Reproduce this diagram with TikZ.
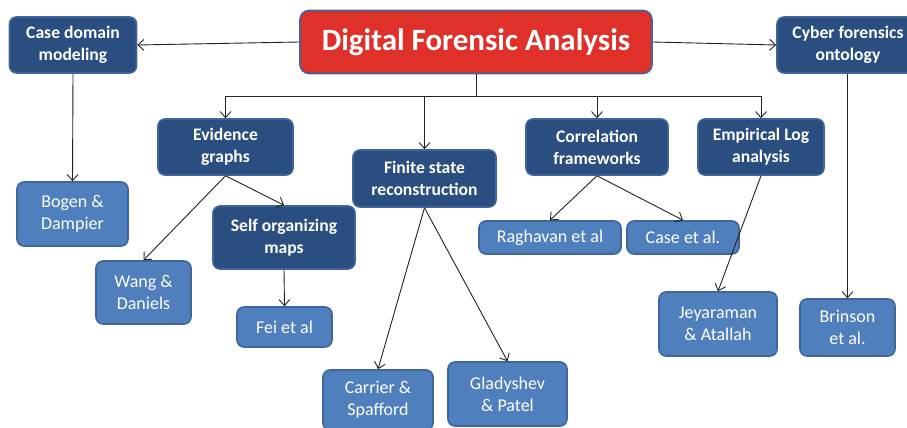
\documentclass[tikz,border=0pt]{standalone}
\usepackage{fontspec}
\setmainfont{Carlito}
\usetikzlibrary{arrows.meta}
\definecolor{darkfill}{HTML}{2A4E80}
\definecolor{lightfill}{HTML}{4F7FBD}
\definecolor{redfill}{HTML}{E0302A}
\definecolor{edgeblue}{HTML}{3F659A}
\definecolor{wire}{HTML}{222222}
\tikzset{
  basebox/.style={rounded corners=7pt, draw=edgeblue, line width=1.6pt,
    inner sep=0pt, align=center, text=white},
  topicbox/.style={basebox, fill=darkfill,
    font=\bfseries\fontsize{17.6}{22}\selectfont},
  refbox/.style={basebox, fill=lightfill,
    font=\fontsize{18}{22}\selectfont},
  rootbox/.style={basebox, fill=redfill, rounded corners=9pt,
    font=\bfseries\fontsize{31}{34}\selectfont},
  arr/.style={draw=wire, line width=0.9pt,
    -{Straight Barb[length=6pt,width=11pt]}},
  plain/.style={draw=wire, line width=0.9pt}
}
\begin{document}
\begin{tikzpicture}[x=1pt,y=-1pt]
\useasboundingbox (0,0) rectangle (907,428);

% root
\node[rootbox, minimum width=352, minimum height=63] (root) at (476,42) {Digital Forensic Analysis};

% first level
\node[topicbox, minimum width=127, minimum height=56] (casedom) at (73,45) {Case domain\\modeling};
\node[topicbox, minimum width=142, minimum height=56] (cyber) at (848,45) {Cyber forensics\\ontology};
\node[topicbox, minimum width=135, minimum height=56] (evid) at (225.5,147) {Evidence\\graphs};
\node[topicbox, minimum width=143, minimum height=57] (finite) at (424.5,178.5) {Finite state\\reconstruction};
\node[topicbox, minimum width=142, minimum height=56] (corr) at (597,147) {Correlation\\frameworks};
\node[topicbox, minimum width=126, minimum height=56] (emp) at (761,147) {Empirical Log\\analysis};
\node[topicbox, minimum width=142, minimum height=63] (som) at (284,237.5) {Self organizing\\maps};

% references
\node[refbox, minimum width=111, minimum height=64] (bogen) at (72.5,214) {Bogen \&\\Dampier};
\node[refbox, minimum width=95, minimum height=63] (wang) at (143.5,292.5) {Wang \&\\Daniels};
\node[refbox, minimum width=95, minimum height=40] (fei) at (284.5,327) {Fei et al};
\node[refbox, minimum width=110, minimum height=60] (carrier) at (378,400) {Carrier \&\\Spafford};
\node[refbox, minimum width=119, minimum height=64] (glad) at (507.5,394) {Gladyshev\\\& Patel};
\node[refbox, minimum width=142, minimum height=33] (rag) at (550,237.5) {Raghavan et al};
\node[refbox, minimum width=112, minimum height=33] (casee) at (683,237.5) {Case et al.};
\node[refbox, minimum width=118, minimum height=64] (jey) at (718,324) {Jeyaraman\\\& Atallah};
\node[refbox, minimum width=95, minimum height=57] (brin) at (847.5,327.5) {Brinson\\et al.};

% root to its side topics
\draw[arr] (root.west) -- (casedom.east);
\draw[arr] (root.east) -- (cyber.west);

% root to the row of topics below it
\coordinate (hub) at (476,96);
\draw[plain] (root.south) -- (hub);
\draw[arr] (hub) -| (evid.north);
\draw[arr] (hub) -| (finite.north);
\draw[arr] (hub) -| (corr.north);
\draw[arr] (hub) -| (emp.north);

% topics to references
\draw[arr] (casedom.south) -- (bogen.north);
\draw[arr] (cyber.south -| brin.north) -- (brin.north);
\draw[arr] (evid.south) -- (wang.north);
\draw[arr] (evid.south) -- (som.north);
\draw[arr] (som.south) -- (fei.north);
\draw[arr] (finite.south) -- (carrier.north);
\draw[arr] (finite.south) -- (glad.north);
\draw[arr] (corr.south) -- (rag.north);
\draw[arr] (corr.south) -- (casee.north);
\draw[arr] (emp.south) -- (jey.north);
\end{tikzpicture}
\end{document}
